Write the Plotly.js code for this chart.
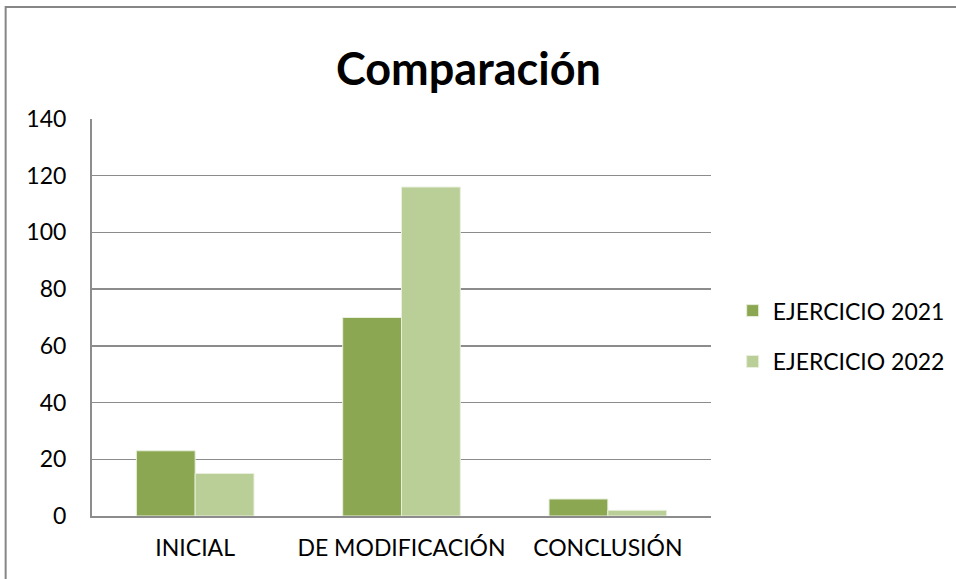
<!DOCTYPE html>
<html>
<head>
<meta charset="utf-8">
<script src="https://cdn.plot.ly/plotly-3.0.1.min.js"></script>
<style>html,body{margin:0;padding:0;background:#fff;}#chart{width:956px;height:579px;}</style>
</head>
<body>
<div id="chart"></div>
<script>
const categories = ["INICIAL", "DE MODIFICACIÓN", "CONCLUSIÓN"];
const series2021 = [23, 70, 6];
const series2022 = [15, 116, 2];
const seriesNames = ["EJERCICIO 2021", "EJERCICIO 2022"];
const yTicks = [0, 20, 40, 60, 80, 100, 120, 140];

const font = "Lato, 'Open Sans', sans-serif";
const traces = [
  {type: "bar", name: seriesNames[0], x: categories, y: series2021, legendgroup: "a",
   marker: {color: "#8BA752", line: {color: "#E8EFDC", width: 1}}},
  {type: "bar", name: seriesNames[1], x: categories, y: series2022, legendgroup: "b",
   marker: {color: "#B9CF97", line: {color: "#E8EFDC", width: 1}}}
];
const layout = {
  width: 956, height: 579,
  margin: {l: 92, r: 245, t: 119, b: 63, autoexpand: false},
  paper_bgcolor: "#fff", plot_bgcolor: "#fff",
  barmode: "group", bargap: 0.43, bargroupgap: 0,
  title: {text: "<b>Comparación</b>", font: {family: font, size: 45, color: "#000"},
          x: 0.49, xanchor: "center", y: 0.88, yanchor: "middle"},
  font: {family: font, size: 23, color: "#000"},
  xaxis: {showline: true, linecolor: "#8c8c8c", linewidth: 2, ticks: "", tickfont: {size: 23},
          showgrid: false, ticklabelstandoff: 10, automargin: false},
  yaxis: {range: [0, 140], tickvals: yTicks, showline: true, linecolor: "#8c8c8c", linewidth: 2,
          gridcolor: "#8c8c8c", gridwidth: 1.5, zeroline: false, ticks: "", ticklen: 0, tickfont: {size: 23},
          ticklabelstandoff: 19, automargin: false},
  legend: {x: 1.035, y: 0.453, xanchor: "left", yanchor: "middle", font: {size: 23},
           traceorder: "grouped", tracegroupgap: 18, itemwidth: 30, bgcolor: "rgba(0,0,0,0)"},
  showlegend: true,
  shapes: [{type: "rect", xref: "paper", yref: "paper", x0: -0.1395, x1: 2, y0: -1, y1: 1.282,
            line: {color: "#868686", width: 2}, fillcolor: "rgba(0,0,0,0)", layer: "below"}]
};
Plotly.newPlot("chart", traces, layout, {displayModeBar: false, staticPlot: true});
</script>
</body>
</html>
